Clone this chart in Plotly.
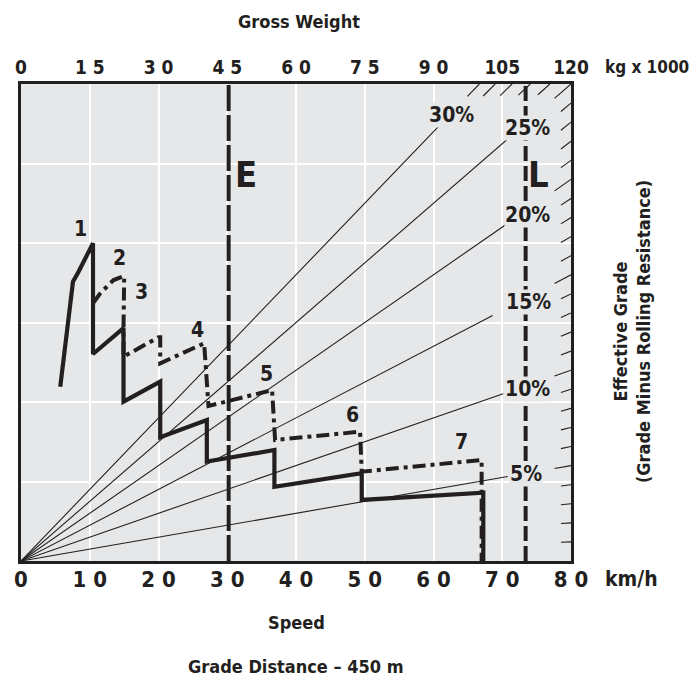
import plotly.graph_objects as go

# ---------------- data ----------------
speed_ticks = [0, 10, 20, 30, 40, 50, 60, 70, 80]
speed_ticktext = ["0", "1 0", "2 0", "3 0", "4 0", "5 0", "6 0", "7 0", "8 0"]
weight_ticks = [0, 15, 30, 45, 60, 75, 90, 105, 120]
weight_ticktext = ["0", "1 5", "3 0", "4 5", "6 0", "7 5", "9 0", "105", "120"]

# retarder curve (solid): speed km/h, effective force (t)
solid_speed = [5.71, 7.56, 8.37, 10.47, 10.47, 14.91, 14.91, 20.25, 20.25, 27.03, 27.03,
               36.86, 36.86, 49.56, 49.56, 67.24, 67.24]
solid_force = [10.96, 17.57, 18.19, 19.98, 13.02, 14.64, 10.02, 11.28, 7.78, 8.87, 6.25,
               6.98, 4.67, 5.52, 3.84, 4.30, 0.0]

# dash-dot curve
dash_speed = [10.47, 11.53, 13.46, 15.01, 14.91, 14.91, 20.0, 20.25, 20.25, 26.64, 27.27,
              36.52, 36.96, 49.32, 49.56, 67.0, 67.0]
dash_force = [16.21, 16.84, 17.67, 17.92, 14.64, 12.85, 14.07, 14.07, 12.43, 13.69, 9.75,
              10.75, 7.61, 8.13, 5.62, 6.35, 0.0]

gear_labels = ["1", "2", "3", "4", "5", "6", "7"]
gear_label_speed = [8.62, 14.33, 17.59, 25.73, 35.65, 48.20, 64.10]
gear_label_force = [20.86, 19.04, 16.94, 14.53, 11.76, 9.18, 7.50]

# effective grade lines (percent) and where each drawn line stops (gross weight, kg x 1000)
grades = [5, 10, 15, 20, 25, 30]
grade_line_end_weight = [106.2, 105.2, 102.9, 107.1, 109.5, 94.2]
grade_label_text = ["5%", "10%", "15%", "20%", "25%", "30%"]
grade_label_weight = [110.2, 110.4, 110.7, 110.5, 110.5, 94.0]
grade_label_force = [5.50, 10.82, 16.32, 21.76, 27.26, 28.08]

hatch_grades_side = list(range(1, 26))
hatch_grades_top = [26, 27, 28, 29, 30]

E_speed = 30.2
L_speed = 73.4

W_MAX = 120.0
F_MAX = 30.0

INK = "#231f20"
BG = "#e6e7e8"
FONT = "DejaVu Sans Condensed, Liberation Sans Narrow, Liberation Sans, Arial"

fig = go.Figure()

# grade lines (force = weight * grade) drawn on the gross weight axis
for g, wend in zip(grades, grade_line_end_weight):
    fig.add_trace(go.Scatter(x=[0, wend], y=[0, wend * g / 100.0], mode="lines",
                             xaxis="x2", yaxis="y",
                             line=dict(color=INK, width=1.1), hoverinfo="skip",
                             showlegend=False))

# hatch marks along right edge and top edge
hx, hy = [], []
for g in hatch_grades_side:
    w1 = W_MAX
    dw = 3.6 if g % 5 == 0 else 2.2
    w0 = w1 - dw
    hx += [w0, w1, None]
    hy += [w0 * g / 100.0, w1 * g / 100.0, None]
for g in hatch_grades_top:
    w1 = F_MAX / (g / 100.0)
    dw = 2.6
    w0 = w1 - dw
    hx += [w0, w1, None]
    hy += [w0 * g / 100.0, w1 * g / 100.0, None]
fig.add_trace(go.Scatter(x=hx, y=hy, mode="lines", xaxis="x2", yaxis="y",
                         line=dict(color=INK, width=1.1), hoverinfo="skip",
                         showlegend=False, connectgaps=False))

# E and L limit lines
fig.add_trace(go.Scatter(x=[E_speed, E_speed], y=[0, F_MAX], mode="lines",
                         line=dict(color=INK, width=4, dash="26px,4px"),
                         hoverinfo="skip", showlegend=False))
fig.add_trace(go.Scatter(x=[L_speed, L_speed], y=[0, F_MAX], mode="lines",
                         line=dict(color=INK, width=4, dash="15px,5px"),
                         hoverinfo="skip", showlegend=False))

# curves
fig.add_trace(go.Scatter(x=dash_speed, y=dash_force, mode="lines",
                         line=dict(color=INK, width=4, dash="13px,5px,4px,5px"),
                         hoverinfo="skip", showlegend=False))
fig.add_trace(go.Scatter(x=solid_speed, y=solid_force, mode="lines",
                         line=dict(color=INK, width=4.2),
                         hoverinfo="skip", showlegend=False))

def f(size):
    return dict(family=FONT, size=size, color=INK, weight="bold")

ann = []
for t, sx, fy in zip(gear_labels, gear_label_speed, gear_label_force):
    ann.append(dict(x=sx, y=fy, xref="x", yref="y", text=t, showarrow=False, font=f(21)))
for t, wx, fy in zip(grade_label_text, grade_label_weight, grade_label_force):
    ann.append(dict(x=wx, y=fy, xref="x2", yref="y", text=t, showarrow=False,
                    bgcolor=BG, borderpad=0, font=f(21)))
ann.append(dict(x=E_speed + 2.55, y=24.3, xref="x", yref="y", text="E", showarrow=False,
                font=f(36)))
ann.append(dict(x=L_speed + 1.85, y=24.3, xref="x", yref="y", text="L", showarrow=False,
                font=f(36)))

ann.append(dict(x=0.505, y=1.132, xref="paper", yref="paper", text="Gross Weight",
                xanchor="center", yanchor="middle", showarrow=False, font=f(18)))
ann.append(dict(x=0.50, y=-0.128, xref="paper", yref="paper", text="Speed",
                xanchor="center", yanchor="middle", showarrow=False, font=f(18)))
ann.append(dict(x=0.50, y=-0.222, xref="paper", yref="paper", text="Grade Distance – 450 m",
                xanchor="center", yanchor="middle", showarrow=False, font=f(18)))
ann.append(dict(x=1.058, y=-0.037, xref="paper", yref="paper", text="km/h",
                xanchor="left", yanchor="middle", showarrow=False, font=f(21)))
ann.append(dict(x=1.058, y=1.036, xref="paper", yref="paper", text="kg x 1000",
                xanchor="left", yanchor="middle", showarrow=False, font=f(17)))
ann.append(dict(x=1.111, y=0.48, xref="paper", yref="paper", textangle=-90,
                xanchor="center", yanchor="middle",
                text="Effective Grade<br>(Grade Minus Rolling Resistance)",
                showarrow=False, font=f(18)))

fig.update_layout(
    width=697, height=682,
    margin=dict(l=21, r=126, t=84, b=121, autoexpand=False),
    paper_bgcolor="white", plot_bgcolor=BG,
    showlegend=False,
    annotations=ann,
    xaxis=dict(range=[0, 80], tickvals=speed_ticks, ticktext=speed_ticktext,
               showgrid=True, gridcolor="white", gridwidth=2, zeroline=False,
               ticks="", showline=True, mirror=True, linecolor=INK, linewidth=2.5,
               automargin=False, ticklabelstandoff=-3, tickfont=f(22)),
    xaxis2=dict(range=[0, W_MAX], overlaying="x", side="top", anchor="y",
                tickvals=weight_ticks, ticktext=weight_ticktext, automargin=False,
                showgrid=False, zeroline=False, ticks="", ticklabelstandoff=5,
                tickfont=f(19)),
    yaxis=dict(range=[0, F_MAX], tickvals=[5, 10, 15, 20, 25], showticklabels=False,
               showgrid=True, gridcolor="white", gridwidth=2, zeroline=False, automargin=False,
               ticks="", showline=True, mirror=True, linecolor=INK, linewidth=2.5),
)

fig.write_html("out.html", config={"displayModeBar": False},
               post_script="document.body.style.margin='0px';")
